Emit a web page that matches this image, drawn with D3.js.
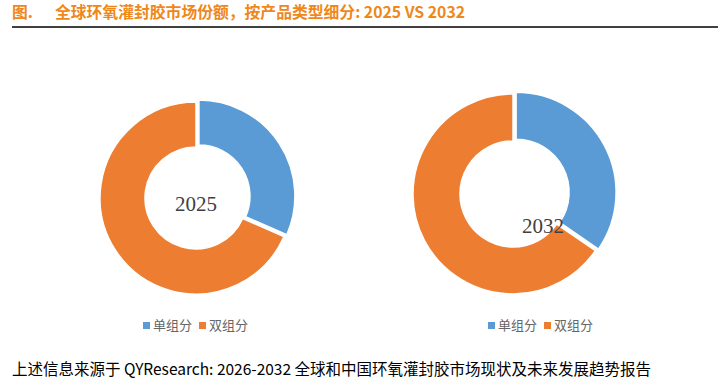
<!DOCTYPE html>
<html><head><meta charset="utf-8">
<script src="https://cdn.jsdelivr.net/npm/d3@7/dist/d3.min.js"></script>
<style>body{margin:0;background:#fff}svg{display:block}</style>
</head><body>
<script>
const categories = ["单组分", "双组分"];
const years = ["2025", "2032"];
const share2025 = [31.6, 68.4];
const share2032 = [34.6, 65.4];
const titleText = "全球环氧灌封胶市场份额，按产品类型细分: 2025 VS 2032";
const footerText = "上述信息来源于 QYResearch: 2026-2032 全球和中国环氧灌封胶市场现状及未来发展趋势报告";

const colors = d3.scaleOrdinal().domain(categories).range(["#5B9BD5", "#ED7D31"]);
const W = 718, H = 382;
const svg = d3.select("body").append("svg").attr("width", W).attr("height", H);

// title
svg.append("text").attr("x", 12).attr("y", 18).attr("font-family", "Noto Sans CJK SC")
  .attr("font-size", 15.8).attr("font-weight", "bold").attr("fill", "#EF871A").text("图.");
svg.append("text").attr("x", 55).attr("y", 18).attr("font-family", "Noto Sans CJK SC")
  .attr("font-size", 15.8).attr("font-weight", "bold").attr("fill", "#EF871A").text(titleText);
svg.append("line").attr("x1", 12).attr("x2", 718).attr("y1", 27).attr("y2", 27)
  .attr("stroke", "#000").attr("stroke-width", 1.5);

const layouts = [
  {cx: 196, cy: 198, r: 96, ir: 51, lx: 196, ly: 211, legX: 143, legY: 322},
  {cx: 513, cy: 194, r: 100, ir: 53, lx: 543, ly: 233, legX: 488, legY: 322}
];
const shares = [share2025, share2032];

const pie = d3.pie().sort(null).startAngle(0).endAngle(2 * Math.PI);

years.forEach((yr, i) => {
  const L = layouts[i];
  const data = categories.map((c, k) => ({cat: c, v: shares[i][k]}));
  const arcs = pie.value(d => d.v)(data);
  const arc = d3.arc().innerRadius(L.ir).outerRadius(L.r);
  const g = svg.append("g").attr("transform", `translate(${L.cx},${L.cy})`);
  g.selectAll("path").data(arcs).join("path")
    .attr("d", arc)
    .attr("fill", d => colors(d.data.cat))
    .attr("stroke", "#fff").attr("stroke-width", 1.5)
    .attr("transform", d => {
      if (d.index !== 0) return null;
      const a = (d.startAngle + d.endAngle) / 2;
      const off = 3.5;
      return `translate(${Math.sin(a) * off},${-Math.cos(a) * off})`;
    });
  svg.append("text").attr("x", L.lx).attr("y", L.ly).attr("text-anchor", "middle")
    .attr("font-family", "Liberation Serif").attr("font-size", 21).attr("fill", "#404040").text(yr);
  // legend
  const leg = svg.append("g").attr("transform", `translate(${L.legX},${L.legY})`);
  const offsets = [0, 56];
  categories.forEach((c, k) => {
    leg.append("rect").attr("x", offsets[k]).attr("y", 0).attr("width", 7).attr("height", 7).attr("fill", colors(c));
    leg.append("text").attr("x", offsets[k] + 10).attr("y", 8).attr("font-family", "Noto Sans CJK SC")
      .attr("font-size", 13).attr("fill", "#666").text(c);
  });
});

svg.append("text").attr("x", 12).attr("y", 375).attr("font-family", "Noto Sans CJK SC")
  .attr("font-size", 15.5).attr("fill", "#000").text(footerText);
</script>
</body></html>
